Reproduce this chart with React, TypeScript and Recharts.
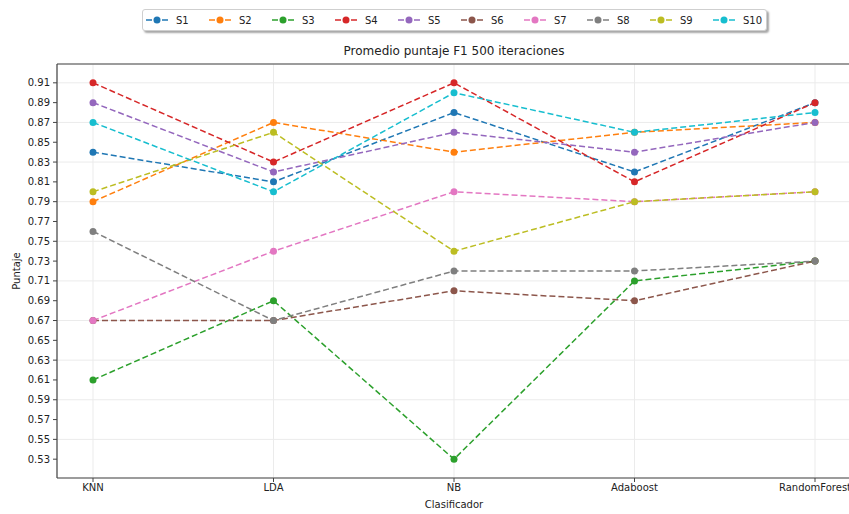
import React from 'react';
import { LineChart, Line, XAxis, YAxis, CartesianGrid, Legend, Label, ReferenceLine } from 'recharts';

const classifiers = ['KNN', 'LDA', 'NB', 'Adaboost', 'RandomForest'];
const seriesNames = ['S1', 'S2', 'S3', 'S4', 'S5', 'S6', 'S7', 'S8', 'S9', 'S10'];
const colors = [
  '#1f77b4', '#ff7f0e', '#2ca02c', '#d62728', '#9467bd',
  '#8c564b', '#e377c2', '#7f7f7f', '#bcbd22', '#17becf',
];

const s1 = [0.84, 0.81, 0.88, 0.82, 0.89];
const s2 = [0.79, 0.87, 0.84, 0.86, 0.87];
const s3 = [0.61, 0.69, 0.53, 0.71, 0.73];
const s4 = [0.91, 0.83, 0.91, 0.81, 0.89];
const s5 = [0.89, 0.82, 0.86, 0.84, 0.87];
const s6 = [0.67, 0.67, 0.70, 0.69, 0.73];
const s7 = [0.67, 0.74, 0.80, 0.79, 0.80];
const s8 = [0.76, 0.67, 0.72, 0.72, 0.73];
const s9 = [0.80, 0.86, 0.74, 0.79, 0.80];
const s10 = [0.87, 0.80, 0.90, 0.86, 0.88];

const yTicks = [
  0.53, 0.55, 0.57, 0.59, 0.61, 0.63, 0.65, 0.67, 0.69, 0.71,
  0.73, 0.75, 0.77, 0.79, 0.81, 0.83, 0.85, 0.87, 0.89, 0.91,
];
const yMin = 0.511;
const yMax = 0.929;

const allSeries = [s1, s2, s3, s4, s5, s6, s7, s8, s9, s10];

const data = classifiers.map((clf, i) => {
  const row: Record<string, string | number> = { clf };
  seriesNames.forEach((name, j) => {
    row[name] = allSeries[j][i];
  });
  return row;
});

const FONT = '"DejaVu Sans", sans-serif';
const AXIS = '#444';

const renderLegend = () => (
  <div
    style={{
      display: 'flex',
      alignItems: 'center',
      height: 22,
      padding: '0 4px 0 3px',
      border: '1px solid #cfcfcf',
      borderRadius: 3,
      background: '#fff',
      boxShadow: '2px 2px 2px rgba(0,0,0,0.35)',
      fontFamily: FONT,
      fontSize: 10,
      color: '#222',
      boxSizing: 'border-box',
    }}
  >
    {seriesNames.map((name, i) => (
      <div
        key={name}
        style={{
          display: 'flex',
          alignItems: 'center',
          width: i === seriesNames.length - 1 ? 'auto' : 63,
        }}
      >
        <svg width={22} height={10} style={{ marginRight: 8 }}>
          <line x1={0} y1={5} x2={6} y2={5} stroke={colors[i]} strokeWidth={1.5} />
          <line x1={16} y1={5} x2={22} y2={5} stroke={colors[i]} strokeWidth={1.5} />
          <circle cx={11} cy={5} r={3.5} fill={colors[i]} />
        </svg>
        <span>{name}</span>
      </div>
    ))}
  </div>
);

export default function App() {
  return (
    <div
      style={{
        position: 'absolute',
        left: 0,
        top: 0,
        width: 849,
        height: 514,
        overflow: 'hidden',
        background: '#fff',
      }}
    >
      <LineChart
        width={860}
        height={514}
        data={data}
        margin={{ top: 64, right: 9, bottom: 0, left: 0 }}
      >
        <CartesianGrid stroke="#ebebeb" strokeWidth={1} />
        <XAxis
          dataKey="clf"
          padding={{ left: 36, right: 36 }}
          height={36}
          tickSize={4}
          tickMargin={2}
          tick={{ fill: '#222', fontSize: 10, fontFamily: FONT }}
          tickLine={{ stroke: AXIS }}
          axisLine={{ stroke: AXIS, strokeWidth: 1.2 }}
          interval={0}
        >
          <Label
            content={({ viewBox }: any) => (
              <text
                x={viewBox.x + viewBox.width / 2}
                y={505}
                textAnchor="middle"
                dominantBaseline="middle"
                fontSize={10}
                fontFamily={FONT}
                fill="#222"
              >
                Clasificador
              </text>
            )}
          />
        </XAxis>
        <YAxis
          type="number"
          domain={[yMin, yMax]}
          ticks={yTicks}
          allowDataOverflow
          width={57}
          tickSize={4}
          tickMargin={3}
          tickFormatter={(v: number) => v.toFixed(2)}
          tick={{ fill: '#222', fontSize: 10, fontFamily: FONT }}
          tickLine={{ stroke: AXIS }}
          axisLine={{ stroke: AXIS, strokeWidth: 1.2 }}
        >
          <Label
            content={({ viewBox }: any) => {
              const cy = viewBox.y + viewBox.height / 2;
              return (
                <text
                  x={17}
                  y={cy}
                  transform={`rotate(-90, 17, ${cy})`}
                  textAnchor="middle"
                  dominantBaseline="middle"
                  fontSize={10}
                  fontFamily={FONT}
                  fill="#222"
                >
                  Puntaje
                </text>
              );
            }}
          />
        </YAxis>
        <ReferenceLine
          y={yMax}
          stroke={AXIS}
          strokeWidth={1.2}
          ifOverflow="visible"
          label={({ viewBox }: any) => (
            <text
              x={viewBox.x + viewBox.width / 2}
              y={viewBox.y - 13}
              textAnchor="middle"
              dominantBaseline="middle"
              fontSize={12}
              fontFamily={FONT}
              fill="#222"
            >
              Promedio puntaje F1 500 iteraciones
            </text>
          )}
        />
        <Legend
          layout="horizontal"
          verticalAlign="middle"
          align="center"
          wrapperStyle={{ top: 9, left: 142, width: 'auto', height: 'auto' }}
          content={renderLegend}
        />
        {seriesNames.map((name, i) => (
          <Line
            key={name}
            dataKey={name}
            stroke={colors[i]}
            strokeWidth={1.5}
            strokeDasharray="6 3"
            dot={{ r: 3.5, fill: colors[i], stroke: 'none', strokeDasharray: 'none' }}
            activeDot={false}
            isAnimationActive={false}
          />
        ))}
      </LineChart>
    </div>
  );
}
